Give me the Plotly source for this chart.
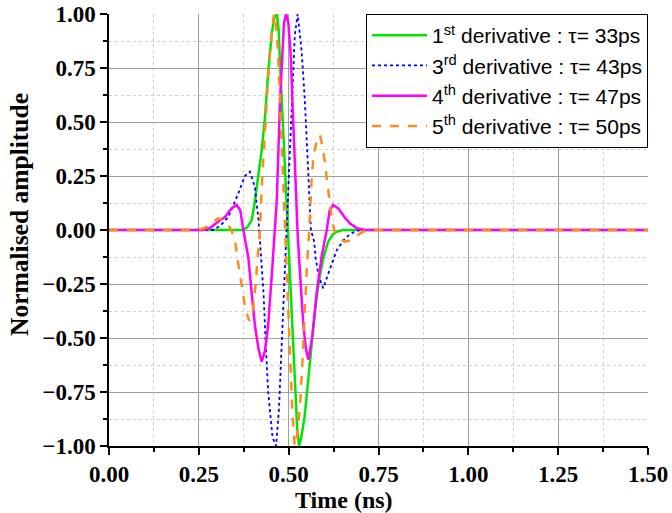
import plotly.graph_objects as go

# ---- data ----
t_d1 = [0, 0.37, 0.385, 0.397, 0.404, 0.411, 0.418, 0.425, 0.434, 0.443, 0.453, 0.460, 0.467,
        0.472, 0.476, 0.485, 0.4945, 0.4985, 0.504, 0.510, 0.518, 0.524, 0.529, 0.535, 0.544,
        0.552, 0.560, 0.569, 0.578, 0.587, 0.598, 0.610, 0.622, 0.634, 0.65, 1.5]
v_d1 = [0, 0, 0.012, 0.046, 0.11, 0.20, 0.28, 0.37, 0.52, 0.73, 0.91, 0.985, 1.0,
        0.93, 0.77, 0.45, 0.14, 0.0, -0.2, -0.44, -0.75, -0.93, -1.0, -0.96, -0.87,
        -0.75, -0.60, -0.44, -0.31, -0.21, -0.12, -0.054, -0.022, -0.008, 0, 0]

t_d3 = [0, 0.29, 0.31, 0.332, 0.360, 0.378, 0.392, 0.406, 0.416, 0.420, 0.430, 0.436, 0.443,
        0.455, 0.465, 0.473, 0.479, 0.485, 0.490, 0.495, 0.500, 0.506, 0.511, 0.517, 0.525,
        0.536, 0.545, 0.552, 0.558, 0.562, 0.571, 0.575, 0.583, 0.596, 0.615, 0.634, 0.657,
        0.685, 0.70, 1.5]
v_d3 = [0, 0, 0.02, 0.06, 0.17, 0.25, 0.27, 0.20, 0.046, -0.054, -0.29, -0.52, -0.75,
        -0.96, -1.0, -0.83, -0.59, -0.36, -0.15, 0.08, 0.27, 0.50, 0.72, 0.90, 1.0,
        0.83, 0.60, 0.37, 0.14, 0, -0.054, -0.13, -0.21, -0.27, -0.18, -0.093, -0.037,
        -0.005, 0, 0]

t_d4 = [0, 0.26, 0.28, 0.295, 0.309, 0.323, 0.341, 0.355, 0.365, 0.374, 0.388, 0.397, 0.406,
        0.416, 0.425, 0.434, 0.443, 0.453, 0.460, 0.467, 0.476, 0.482, 0.487, 0.493, 0.499,
        0.505, 0.510, 0.520, 0.525, 0.532, 0.541, 0.548, 0.555, 0.566, 0.578, 0.592, 0.606,
        0.614, 0.624, 0.638, 0.655, 0.671, 0.69, 0.71, 1.5]
v_d4 = [0, 0, 0.008, 0.028, 0.045, 0.06, 0.10, 0.116, 0.093, 0.0, -0.13, -0.29, -0.44,
        -0.55, -0.61, -0.56, -0.44, -0.21, -0.02, 0.14, 0.60, 0.83, 0.96, 1.0, 0.96,
        0.83, 0.60, 0.14, -0.02, -0.21, -0.44, -0.55, -0.60, -0.49, -0.29, -0.12, 0.0,
        0.09, 0.116, 0.10, 0.06, 0.03, 0.008, 0, 0]

t_d5 = [0, 0.245, 0.267, 0.285, 0.304, 0.323, 0.341, 0.351, 0.360, 0.369, 0.379, 0.390, 0.399,
        0.406, 0.414, 0.420, 0.425, 0.430, 0.436, 0.442, 0.448, 0.455, 0.459, 0.464, 0.470,
        0.473, 0.479, 0.485, 0.4905, 0.4945, 0.499, 0.504, 0.510, 0.5165, 0.519, 0.523, 0.528,
        0.532, 0.539, 0.545, 0.552, 0.557, 0.560, 0.564, 0.569, 0.578, 0.587, 0.595, 0.601,
        0.609, 0.620, 0.627, 0.640, 0.655, 0.672, 0.690, 0.710, 0.730, 1.5]
v_d5 = [0, 0, 0.01, 0.035, 0.054, 0.04, 0.0, -0.054, -0.16, -0.25, -0.36, -0.42, -0.39,
        -0.29, -0.13, 0.0, 0.20, 0.355, 0.51, 0.68, 0.83, 0.96, 1.0, 0.96, 0.84,
        0.72, 0.47, 0.21, 0.0, -0.14, -0.36, -0.59, -0.83, -0.99, -1.0, -0.96, -0.88,
        -0.80, -0.59, -0.36, -0.13, -0.01, 0.10, 0.24, 0.34, 0.41, 0.44, 0.38, 0.31,
        0.19, 0.05, 0.0, -0.035, -0.054, -0.048, -0.025, -0.006, 0, 0]

names = ["1<sup>st</sup> derivative : τ= 33ps",
         "3<sup>rd</sup> derivative : τ= 43ps",
         "4<sup>th</sup> derivative : τ= 47ps",
         "5<sup>th</sup> derivative : τ= 50ps"]

x_title = "Time (ns)"
y_title = "Normalised amplitude"
x_ticks = [0, 0.25, 0.5, 0.75, 1.0, 1.25, 1.5]
y_ticks = [-1.0, -0.75, -0.5, -0.25, 0, 0.25, 0.5, 0.75, 1.0]

fig = go.Figure()
fig.add_trace(go.Scatter(x=t_d1, y=v_d1, mode="lines", name=names[0],
                         line=dict(color="#00e600", width=2.5)))
fig.add_trace(go.Scatter(x=t_d3, y=v_d3, mode="lines", name=names[1],
                         line=dict(color="#0000ff", width=1.8, dash="dot")))
fig.add_trace(go.Scatter(x=t_d4, y=v_d4, mode="lines", name=names[2],
                         line=dict(color="#ff00ff", width=2.5)))
fig.add_trace(go.Scatter(x=t_d5, y=v_d5, mode="lines", name=names[3],
                         line=dict(color="#ff8c1a", width=2.5, dash="dash")))

serif = "Times New Roman, Liberation Serif, serif"
axis_common = dict(
    showline=True, linecolor="black", linewidth=1.5,
    ticks="outside", ticklen=7, tickwidth=1.5, tickcolor="black",
    showgrid=True, gridcolor="#a0a0a0", gridwidth=1,
    zeroline=False, automargin=False,
    tickfont=dict(family=serif, size=23, color="black", weight="bold"),
    tickformat=".2f",
)
minor_common = dict(dtick=0.125, tick0=0, ticks="outside", ticklen=4, tickcolor="black",
                    showgrid=True, gridcolor="#d0d0d0", griddash="dot", gridwidth=1)

fig.update_xaxes(range=[0, 1.5], tickvals=x_ticks, minor=minor_common, **axis_common)
fig.update_yaxes(range=[-1, 1], tickvals=y_ticks, minor=minor_common, **axis_common)

fig.add_annotation(text=x_title, xref="paper", yref="paper", x=0.436, y=-0.124,
                   xanchor="center", yanchor="middle", showarrow=False,
                   font=dict(family=serif, size=24, color="black", weight="bold"))
fig.add_annotation(text=y_title, xref="paper", yref="paper", x=-0.165, y=0.535,
                   xanchor="center", yanchor="middle", textangle=-90, showarrow=False,
                   font=dict(family=serif, size=25.5, color="black", weight="bold"))

fig.update_layout(
    width=672, height=513,
    margin=dict(l=109, r=24, t=14, b=67),
    paper_bgcolor="white", plot_bgcolor="white",
    legend=dict(x=1, y=1, xanchor="right", yanchor="top",
                bgcolor="white", bordercolor="black", borderwidth=1,
                font=dict(family="Arial, Liberation Sans, sans-serif", size=21, color="black"),
                tracegroupgap=0, itemwidth=55),
    showlegend=True,
)

fig.write_html("out.html")
